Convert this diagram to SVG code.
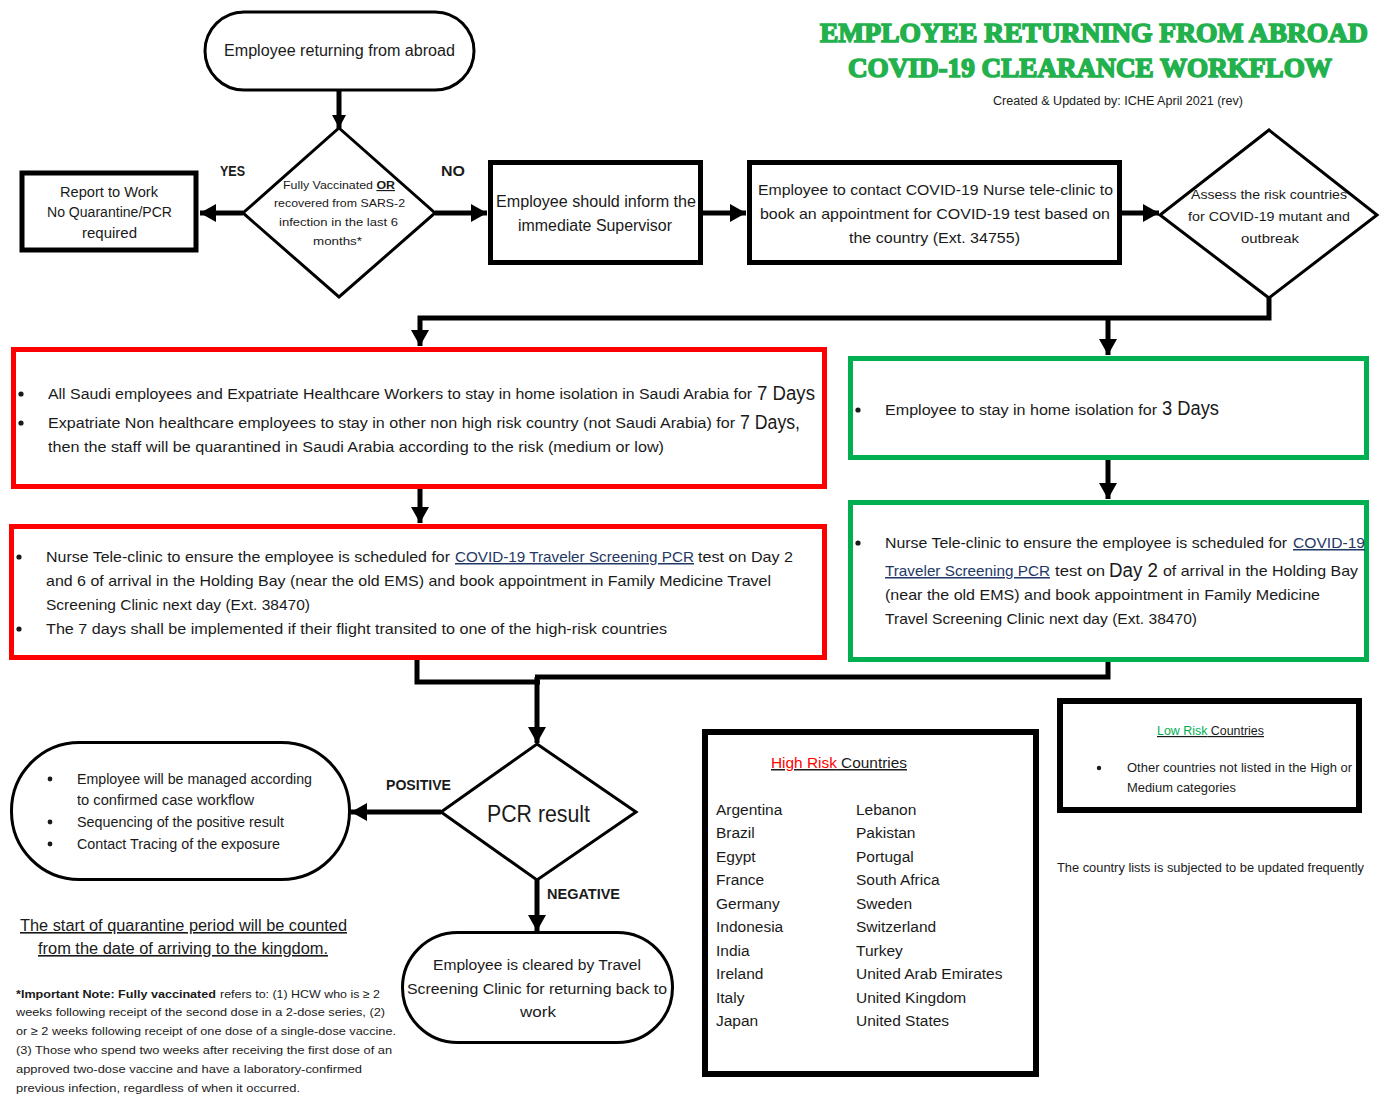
<svg xmlns="http://www.w3.org/2000/svg" width="1382" height="1097" viewBox="0 0 1382 1097">
  <style>
    .t { font-family: "Liberation Sans", Arial, sans-serif; fill: #1a1a1a; }
    .b { font-weight: bold; }
    .c { text-anchor: middle; }
    .dot { fill: #1a1a1a; }
    .link { fill: #1f3864; text-decoration: underline; }
    .box { fill: #ffffff; stroke: #000; }
    .red { fill: #ffffff; stroke: #ff0000; stroke-width: 5; }
    .grn { fill: #ffffff; stroke: #00b050; stroke-width: 5; }
    .conn { fill: none; stroke: #000; stroke-width: 5; }
    .title { font-family: "Liberation Serif", "Times New Roman", serif; font-weight: bold; fill: #22b14c; stroke: #22b14c; stroke-width: 1.6; text-anchor: start; }
  </style>
  <defs>
    <marker id="ah" markerUnits="userSpaceOnUse" markerWidth="18" markerHeight="18" refX="16" refY="9" orient="auto">
      <path d="M0,0 L16,9 L0,18 z" fill="#000"/>
    </marker>
    <marker id="ahs" markerUnits="userSpaceOnUse" markerWidth="14" markerHeight="14" refX="13" refY="7" orient="auto">
      <path d="M0,0 L13,7 L0,14 z" fill="#000"/>
    </marker>
  </defs>

  <rect width="1382" height="1097" fill="#ffffff"/>

  <!-- title block -->
  <g id="title">
    <text class="title" x="820" y="42" font-size="27" textLength="548" lengthAdjust="spacingAndGlyphs">EMPLOYEE RETURNING FROM ABROAD</text>
    <text class="title" x="848" y="77" font-size="27" textLength="484" lengthAdjust="spacingAndGlyphs">COVID-19 CLEARANCE WORKFLOW</text>
    <text class="t" x="993" y="105" font-size="12" textLength="250" lengthAdjust="spacingAndGlyphs">Created &amp; Updated by: ICHE April 2021 (rev)</text>
  </g>

  <!-- connectors -->
  <g id="connectors">
    <line class="conn" x1="339" y1="90" x2="339" y2="128" stroke-width="3" marker-end="url(#ahs)"/>
    <line class="conn" x1="243" y1="213" x2="200" y2="213" stroke-width="7" marker-end="url(#ah)"/>
    <line class="conn" x1="435" y1="213" x2="487" y2="213" stroke-width="7" marker-end="url(#ah)"/>
    <line class="conn" x1="703" y1="213" x2="746" y2="213" stroke-width="4" marker-end="url(#ah)"/>
    <line class="conn" x1="1118" y1="213" x2="1159" y2="213" stroke-width="6" marker-end="url(#ah)"/>
    <path class="conn" d="M1269,298 V318 H420 V346" marker-end="url(#ah)"/>
    <line class="conn" x1="1108" y1="318" x2="1108" y2="355" marker-end="url(#ah)"/>
    <line class="conn" x1="420" y1="488" x2="420" y2="523" stroke-width="4" marker-end="url(#ah)"/>
    <line class="conn" x1="1108" y1="458" x2="1108" y2="499" marker-end="url(#ah)"/>
    <path class="conn" d="M417,658 V682 H540"/>
    <path class="conn" d="M1108,660 V677 H535"/>
    <line class="conn" x1="537" y1="677" x2="537" y2="743" marker-end="url(#ah)"/>
    <line class="conn" x1="441" y1="812" x2="351" y2="812" stroke-width="4" marker-end="url(#ah)"/>
    <line class="conn" x1="537" y1="880" x2="537" y2="931" stroke-width="4" marker-end="url(#ah)"/>
    <text class="t b" x="220" y="176" font-size="14" textLength="25" lengthAdjust="spacingAndGlyphs">YES</text>
    <text class="t b" x="441" y="176" font-size="14" textLength="24" lengthAdjust="spacingAndGlyphs">NO</text>
    <text class="t b" x="386" y="790" font-size="14" textLength="65" lengthAdjust="spacingAndGlyphs">POSITIVE</text>
    <text class="t b" x="547" y="899" font-size="14" textLength="73" lengthAdjust="spacingAndGlyphs">NEGATIVE</text>
  </g>

  <!-- start terminal -->
  <g id="start">
    <rect class="box" x="205" y="12" width="269" height="78" rx="39" stroke-width="3"/>
    <text class="t" x="224" y="56" font-size="16" textLength="231" lengthAdjust="spacingAndGlyphs">Employee returning from abroad</text>
  </g>

  <!-- vaccination decision -->
  <g id="vaccinated">
    <polygon class="box" points="339,128 435,213 339,297 243,213" stroke-width="3"/>
    <text class="t" x="283" y="189" font-size="11.5" textLength="112" lengthAdjust="spacingAndGlyphs">Fully Vaccinated <tspan class="b" text-decoration="underline">OR</tspan></text>
    <text class="t" x="274" y="207" font-size="11.5" textLength="131" lengthAdjust="spacingAndGlyphs">recovered from SARS-2</text>
    <text class="t" x="279" y="226" font-size="11.5" textLength="119" lengthAdjust="spacingAndGlyphs">infection in the last 6</text>
    <text class="t" x="313" y="245" font-size="11.5" textLength="49" lengthAdjust="spacingAndGlyphs">months*</text>
  </g>

  <!-- report to work -->
  <g id="report">
    <rect class="box" x="22" y="173" width="174" height="77" stroke-width="5"/>
    <text class="t" x="60" y="197" font-size="14" textLength="98" lengthAdjust="spacingAndGlyphs">Report to Work</text>
    <text class="t" x="47" y="217" font-size="14" textLength="125" lengthAdjust="spacingAndGlyphs">No Quarantine/PCR</text>
    <text class="t" x="82" y="238" font-size="14" textLength="55" lengthAdjust="spacingAndGlyphs">required</text>
  </g>

  <!-- inform supervisor -->
  <g id="inform">
    <rect class="box" x="490.5" y="162.5" width="210" height="100" stroke-width="5"/>
    <text class="t" x="496" y="207" font-size="16" textLength="200" lengthAdjust="spacingAndGlyphs">Employee should inform the</text>
    <text class="t" x="518" y="231" font-size="16" textLength="154" lengthAdjust="spacingAndGlyphs">immediate Supervisor</text>
  </g>

  <!-- contact tele-clinic -->
  <g id="teleclinic">
    <rect class="box" x="749.5" y="162.5" width="370" height="100" stroke-width="5"/>
    <text class="t" x="758" y="195" font-size="15" textLength="355" lengthAdjust="spacingAndGlyphs">Employee to contact COVID-19 Nurse tele-clinic to</text>
    <text class="t" x="760" y="219" font-size="15" textLength="350" lengthAdjust="spacingAndGlyphs">book an appointment for COVID-19 test based on</text>
    <text class="t" x="849" y="243" font-size="15" textLength="171" lengthAdjust="spacingAndGlyphs">the country (Ext. 34755)</text>
  </g>

  <!-- risk assessment -->
  <g id="assess">
    <polygon class="box" points="1269,130 1377,215 1269,298 1160,215" stroke-width="3"/>
    <text class="t" x="1191" y="199" font-size="13" textLength="156" lengthAdjust="spacingAndGlyphs">Assess the risk countries</text>
    <text class="t" x="1188" y="221" font-size="13" textLength="162" lengthAdjust="spacingAndGlyphs">for COVID-19 mutant and</text>
    <text class="t" x="1241" y="243" font-size="13" textLength="58" lengthAdjust="spacingAndGlyphs">outbreak</text>
  </g>

  <!-- high risk: isolation -->
  <g id="high-isolation">
    <rect class="red" x="13.5" y="349.5" width="811" height="137"/>
    <circle class="dot" cx="21" cy="394" r="2.6"/>
    <text class="t" x="48" y="399" font-size="15.5" textLength="704" lengthAdjust="spacingAndGlyphs">All Saudi employees and Expatriate Healthcare Workers to stay in home isolation in Saudi Arabia for</text>
    <text class="t" x="757" y="400" font-size="20" textLength="58" lengthAdjust="spacingAndGlyphs">7 Days</text>
    <circle class="dot" cx="21" cy="423" r="2.6"/>
    <text class="t" x="48" y="428" font-size="15.5" textLength="687" lengthAdjust="spacingAndGlyphs">Expatriate Non healthcare employees to stay in other non high risk country (not Saudi Arabia) for</text>
    <text class="t" x="740" y="429" font-size="20" textLength="60" lengthAdjust="spacingAndGlyphs">7 Days,</text>
    <text class="t" x="48" y="452" font-size="15.5" textLength="616" lengthAdjust="spacingAndGlyphs">then the staff will be quarantined in Saudi Arabia according to the risk (medium or low)</text>
  </g>

  <!-- high risk: PCR testing -->
  <g id="high-testing">
    <rect class="red" x="11.5" y="526.5" width="813" height="131"/>
    <circle class="dot" cx="19" cy="557" r="2.6"/>
    <text class="t" x="46" y="562" font-size="15" textLength="404" lengthAdjust="spacingAndGlyphs">Nurse Tele-clinic to ensure the employee is scheduled for</text>
    <text class="t link" x="455" y="562" font-size="15" textLength="239" lengthAdjust="spacingAndGlyphs">COVID-19 Traveler Screening PCR</text>
    <text class="t" x="698" y="562" font-size="15" textLength="95" lengthAdjust="spacingAndGlyphs">test on Day 2</text>
    <text class="t" x="46" y="586" font-size="15" textLength="725" lengthAdjust="spacingAndGlyphs">and 6 of arrival in the Holding Bay (near the old EMS) and book appointment in Family Medicine Travel</text>
    <text class="t" x="46" y="610" font-size="15" textLength="264" lengthAdjust="spacingAndGlyphs">Screening Clinic next day (Ext. 38470)</text>
    <circle class="dot" cx="19" cy="629" r="2.6"/>
    <text class="t" x="46" y="634" font-size="15" textLength="621" lengthAdjust="spacingAndGlyphs">The 7 days shall be implemented if their flight transited to one of the high-risk countries</text>
  </g>

  <!-- low/medium risk: isolation -->
  <g id="low-isolation">
    <rect class="grn" x="850.5" y="358.5" width="516" height="99"/>
    <circle class="dot" cx="858" cy="410" r="2.6"/>
    <text class="t" x="885" y="415" font-size="15.5" textLength="272" lengthAdjust="spacingAndGlyphs">Employee to stay in home isolation for</text>
    <text class="t" x="1162" y="415" font-size="20" textLength="57" lengthAdjust="spacingAndGlyphs">3 Days</text>
  </g>

  <!-- low/medium risk: PCR testing -->
  <g id="low-testing">
    <rect class="grn" x="850.5" y="502.5" width="516" height="157"/>
    <circle class="dot" cx="858" cy="543" r="2.6"/>
    <text class="t" x="885" y="548" font-size="15" textLength="402" lengthAdjust="spacingAndGlyphs">Nurse Tele-clinic to ensure the employee is scheduled for</text>
    <text class="t link" x="1293" y="548" font-size="15" textLength="72" lengthAdjust="spacingAndGlyphs">COVID-19</text>
    <text class="t link" x="885" y="576" font-size="15" textLength="165" lengthAdjust="spacingAndGlyphs">Traveler Screening PCR</text>
    <text class="t" x="1055" y="576" font-size="15" textLength="50" lengthAdjust="spacingAndGlyphs">test on</text>
    <text class="t" x="1109" y="577" font-size="20" textLength="49" lengthAdjust="spacingAndGlyphs">Day 2</text>
    <text class="t" x="1163" y="576" font-size="15" textLength="195" lengthAdjust="spacingAndGlyphs">of arrival in the Holding Bay</text>
    <text class="t" x="885" y="600" font-size="15" textLength="435" lengthAdjust="spacingAndGlyphs">(near the old EMS) and book appointment in Family Medicine</text>
    <text class="t" x="885" y="624" font-size="15" textLength="312" lengthAdjust="spacingAndGlyphs">Travel Screening Clinic next day (Ext. 38470)</text>
  </g>

  <!-- PCR decision -->
  <g id="pcr">
    <polygon class="box" points="537,744 636,812 537,880 441,812" stroke-width="3"/>
    <text class="t" x="487" y="822" font-size="24" textLength="103" lengthAdjust="spacingAndGlyphs">PCR result</text>
  </g>

  <!-- positive outcome -->
  <g id="positive">
    <rect class="box" x="11.5" y="742.5" width="338" height="137" rx="68" stroke-width="3"/>
    <circle class="dot" cx="50" cy="779" r="2.4"/>
    <text class="t" x="77" y="784" font-size="14" textLength="235" lengthAdjust="spacingAndGlyphs">Employee will be managed according</text>
    <text class="t" x="77" y="805" font-size="14" textLength="177" lengthAdjust="spacingAndGlyphs">to confirmed case workflow</text>
    <circle class="dot" cx="50" cy="822" r="2.4"/>
    <text class="t" x="77" y="827" font-size="14" textLength="207" lengthAdjust="spacingAndGlyphs">Sequencing of the positive result</text>
    <circle class="dot" cx="50" cy="844" r="2.4"/>
    <text class="t" x="77" y="849" font-size="14" textLength="203" lengthAdjust="spacingAndGlyphs">Contact Tracing of the exposure</text>
  </g>

  <!-- negative outcome -->
  <g id="negative">
    <rect class="box" x="402.5" y="932.5" width="270" height="110" rx="55" stroke-width="3"/>
    <text class="t" x="433" y="970" font-size="15.5" textLength="208" lengthAdjust="spacingAndGlyphs">Employee is cleared by Travel</text>
    <text class="t" x="407" y="994" font-size="15.5" textLength="260" lengthAdjust="spacingAndGlyphs">Screening Clinic for returning back to</text>
    <text class="t" x="520" y="1017" font-size="15.5" textLength="36" lengthAdjust="spacingAndGlyphs">work</text>
  </g>

  <!-- quarantine note -->
  <g id="quarantine-note">
    <text class="t" x="20" y="931" font-size="16" text-decoration="underline" textLength="327" lengthAdjust="spacingAndGlyphs">The start of quarantine period will be counted</text>
    <text class="t" x="38" y="954" font-size="16" text-decoration="underline" textLength="290" lengthAdjust="spacingAndGlyphs">from the date of arriving to the kingdom.</text>
  </g>

  <!-- footnote -->
  <g id="footnote">
    <text class="t b" x="16" y="998" font-size="11.5" textLength="200" lengthAdjust="spacingAndGlyphs">*Important Note: Fully vaccinated</text>
    <text class="t" x="220" y="998" font-size="11.5" textLength="160" lengthAdjust="spacingAndGlyphs">refers to: (1) HCW who is ≥ 2</text>
    <text class="t" x="16" y="1016" font-size="11.5" textLength="369" lengthAdjust="spacingAndGlyphs">weeks following receipt of the second dose in a 2-dose series, (2)</text>
    <text class="t" x="16" y="1035" font-size="11.5" textLength="380" lengthAdjust="spacingAndGlyphs">or ≥ 2 weeks following receipt of one dose of a single-dose vaccine.</text>
    <text class="t" x="16" y="1054" font-size="11.5" textLength="376" lengthAdjust="spacingAndGlyphs">(3) Those who spend two weeks after receiving the first dose of an</text>
    <text class="t" x="16" y="1073" font-size="11.5" textLength="346" lengthAdjust="spacingAndGlyphs">approved two-dose vaccine and have a laboratory-confirmed</text>
    <text class="t" x="16" y="1092" font-size="11.5" textLength="284" lengthAdjust="spacingAndGlyphs">previous infection, regardless of when it occurred.</text>
  </g>

  <!-- high risk country list -->
  <g id="high-risk-list">
    <rect class="box" x="705" y="732" width="331" height="342" stroke-width="6"/>
    <text class="t" x="771" y="768" font-size="15" text-decoration="underline" textLength="136" lengthAdjust="spacingAndGlyphs"><tspan fill="#ff0000">High Risk</tspan> Countries</text>
    <g class="t" font-size="15.5">
      <text x="716" y="815">Argentina</text>
      <text x="716" y="838">Brazil</text>
      <text x="716" y="862">Egypt</text>
      <text x="716" y="885">France</text>
      <text x="716" y="909">Germany</text>
      <text x="716" y="932">Indonesia</text>
      <text x="716" y="956">India</text>
      <text x="716" y="979">Ireland</text>
      <text x="716" y="1003">Italy</text>
      <text x="716" y="1026">Japan</text>
      <text x="856" y="815">Lebanon</text>
      <text x="856" y="838">Pakistan</text>
      <text x="856" y="862">Portugal</text>
      <text x="856" y="885">South Africa</text>
      <text x="856" y="909">Sweden</text>
      <text x="856" y="932">Switzerland</text>
      <text x="856" y="956">Turkey</text>
      <text x="856" y="979">United Arab Emirates</text>
      <text x="856" y="1003">United Kingdom</text>
      <text x="856" y="1026">United States</text>
    </g>
  </g>

  <!-- low risk country list -->
  <g id="low-risk-list">
    <rect class="box" x="1060" y="701" width="299" height="109" stroke-width="6"/>
    <text class="t" x="1157" y="735" font-size="12" text-decoration="underline" textLength="107" lengthAdjust="spacingAndGlyphs"><tspan fill="#00b050">Low Risk</tspan> Countries</text>
    <circle class="dot" cx="1099" cy="768" r="2.2"/>
    <text class="t" x="1127" y="772" font-size="12" textLength="225" lengthAdjust="spacingAndGlyphs">Other countries not listed in the High or</text>
    <text class="t" x="1127" y="792" font-size="12" textLength="109" lengthAdjust="spacingAndGlyphs">Medium categories</text>
  </g>

  <text class="t" x="1057" y="872" font-size="12" textLength="307" lengthAdjust="spacingAndGlyphs">The country lists is subjected to be updated frequently</text>
</svg>
